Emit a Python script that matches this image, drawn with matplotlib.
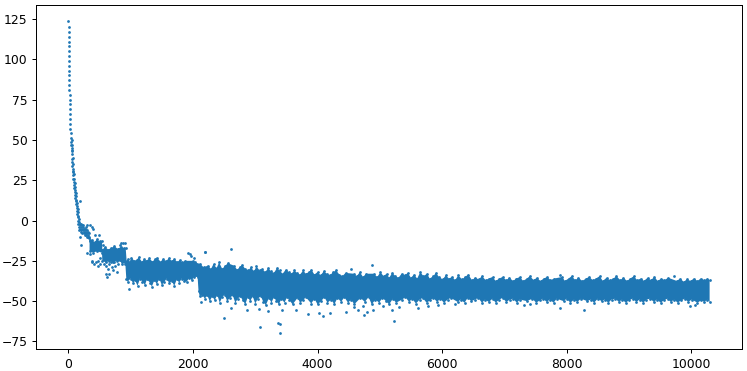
import matplotlib
matplotlib.use("Agg")
import matplotlib.pyplot as plt

#values, (x, y) pairs
#early decay, single visible points
curve = [(0,123.5),(2,120),(3,117),(4,114),(5,111),(6,108),(7,105),(8,102),(10,99),(11,96),(12,93),(13,90),(15,87),(16,84),(18,81),(19,78),(21,75),(22,72),(24,69),(26,66),(28,63),(30,60),(33,57),(36,54),(40,51),(44,49),(48,47),(52,45),(55,43),(58,50),(59,47),(60,44),(61,41),(62,38),(64,36),(66,34),(68,32),(70,39),(72,30),(74,28),(76,35),(78,26),(80,31),(84,24),(88,29),(90,22),(94,26),(96,20),(100,23),(103,18),(106,21),(108,16),(112,19),(114,14),(118,17),(120,12),(124,15),(126,10),(130,13),(132,8),(136,11),(138,6),(142,9),(144,4),(148,7),(150,2),(154,5),(156,0),(160,3),(162,-2),(166,1),(170,-4),(174,-1),(178,-6),(182,-3),(186,-5),(190,-2),(196,-6),(200,-2),(205,-4),(210,-7),(215,-3),(220,-5),(225,-8),(230,-4),(235,-6),(240,-3),(245,-8),(250,-5),(255,-7),(260,-9),(265,-5),(270,-7),(275,-4),(280,-9),(285,-6),(290,-8),(295,-10),(300,-6),(305,-8),(310,-10),(315,-7),(320,-9),(325,-11),(330,-8),(335,-10),(340,-12)]
#stray points around the decay
stray = [(180,12),(293,-2.5),(340,-3),(375,-4),(395,-5),(180,-10),(195,-15),(293,-20),(345,-21),(375,-25),(385,-26),(410,-27),(440,-26),(470,-25),(480,-28),(500,-23),(515,-27),(420,-9),(490,-9),(560,-15),(825,-15),(850,-14),(880,-14),(905,-14),(600,-33),(620,-35),(650,-33),(700,-29),(720,-31),(750,-28),(780,-32),(640,-30),(610,-28),(570,-27),(660,-27),(690,-26),(740,-26),(800,-27),(860,-27)]

#top and bottom outline of the dense part, where single points can't be read
edge_top = [(340,-13),(380,-12),(420,-13.5),(460,-11.5),(500,-13),(540,-12.5),(545,-18),(590,-16.5),(640,-18),(690,-17),(740,-16),(790,-17.5),(840,-16.5),(890,-17),(920,-17),(935,-25),(960,-24),(985,-25.5),(1010,-23),(1060,-25),(1095,-24.5),(1130,-22.8),(1180,-25.5),(1220,-24),(1250,-25),(1300,-23.5),(1350,-25.5),(1390,-24),(1420,-23),(1480,-25.5),(1520,-24),(1570,-25.2),(1610,-23.5),(1660,-25),(1700,-24),(1750,-25.7),(1790,-24.5),(1830,-26),(1870,-25),(2000,-25),(2040,-26),(2120,-27),(2170,-29),(2240,-28),(2290,-30),(2330,-27),(2380,-29.5),(2420,-26),(2470,-30),(2520,-28),(2560,-26.5),(2660,-28),(2710,-30.5),(2750,-29),(2790,-27.5),(2840,-30),(2890,-31),(2930,-29),(2980,-31.5),(3020,-28.5),(3070,-31),(3110,-30),(3160,-32),(3210,-29.5),(3250,-31.5),(3300,-32.5),(3350,-29.5),(3390,-31),(3440,-33),(3490,-30.5),(3540,-32),(3580,-33),(3630,-31),(3670,-32.5),(3720,-33.5),(3770,-31),(3810,-33),(3860,-32),(3900,-30.5),(3950,-33.5),(4000,-32),(4050,-34),(4100,-31.5),(4150,-33),(4200,-34),(4250,-32),(4300,-31),(4350,-33.5),(4400,-34.5),(4450,-32.5),(4580,-33),(4630,-34.5),(4680,-32),(4730,-35),(4780,-33),(4900,-33),(4960,-35),(5010,-32),(5060,-34.5),(5110,-33),(5150,-35.5),(5200,-32.5),(5250,-34.5),(5300,-35.5),(5350,-33),(5400,-34),(5450,-32.5),(5500,-35.5),(5550,-33.5),(5600,-36),(5650,-32),(5700,-34.5),(5760,-33),(5800,-36),(5860,-34.5),(5900,-32.5),(5950,-35),(6010,-36.5),(6060,-34),(6110,-36),(6160,-35),(6210,-37),(6260,-34),(6320,-36.5),(6370,-35),(6420,-33.5),(6480,-37),(6530,-35.5),(6590,-36.5),(6640,-34.5),(6700,-37),(6750,-36),(6810,-35),(6860,-37.5),(6920,-36),(6970,-35),(7030,-37),(7080,-35.5),(7140,-37.5),(7190,-36),(7250,-35),(7300,-37.5),(7360,-36),(7410,-34.5),(7470,-37),(7520,-35.5),(7580,-37.5),(7630,-36),(7690,-35),(7740,-37),(7800,-36),(7930,-35),(7970,-37.5),(8030,-36),(8080,-34.5),(8140,-37),(8190,-35.5),(8250,-37.5),(8310,-36),(8360,-35),(8420,-37),(8470,-36),(8530,-34.5),(8580,-37.5),(8640,-35.5),(8690,-37),(8750,-36),(8800,-34.5),(8860,-37),(8910,-35.5),(8970,-37.5),(9020,-36),(9080,-34.5),(9130,-37),(9190,-36),(9240,-37.5),(9300,-35.5),(9350,-37),(9410,-35),(9460,-37.5),(9520,-36),(9570,-37),(9630,-35.5),(9770,-37.5),(9820,-36),(9880,-38),(9930,-36.5),(9990,-37.5),(10040,-36),(10100,-37.5),(10150,-36),(10210,-37),(10260,-36),(10295,-37)]
edge_bot = [(340,-19),(400,-20),(460,-19),(540,-20),(545,-25),(600,-26),(660,-25),(720,-26),(780,-25),(860,-26),(915,-27),(930,-36),(950,-38),(1000,-36),(1040,-39),(1070,-37),(1110,-40.5),(1150,-36),(1190,-38),(1230,-40),(1260,-36.5),(1310,-38.5),(1340,-41),(1380,-37),(1420,-39.5),(1460,-36),(1500,-40),(1540,-38),(1580,-36),(1620,-39),(1660,-37.5),(1700,-40.5),(1740,-36.5),(1780,-38.5),(1820,-36),(1860,-37.5),(1900,-38),(1940,-35.5),(1980,-37),(2020,-35),(2075,-35),(2090,-44),(2110,-47),(2150,-46),(2190,-48.5),(2230,-46.5),(2270,-50),(2310,-47),(2350,-49.5),(2390,-46),(2430,-51),(2470,-47.5),(2510,-46),(2550,-50),(2590,-48),(2640,-46.5),(2680,-51),(2720,-48.5),(2760,-47),(2800,-49.5),(2840,-52),(2880,-47.5),(2920,-50),(2960,-47),(3000,-51.5),(3040,-48.5),(3090,-47),(3130,-50.5),(3170,-52.5),(3220,-48),(3260,-51),(3300,-47.5),(3340,-50),(3380,-52),(3420,-48.5),(3470,-51),(3510,-47.5),(3550,-49.5),(3600,-52),(3680,-48),(3720,-51),(3770,-49.5),(3810,-47.5),(3900,-51.5),(3950,-48.5),(4000,-52),(4060,-50),(4110,-47.5),(4160,-51),(4220,-49),(4270,-52),(4320,-48),(4380,-50.5),(4430,-47.5),(4490,-51),(4540,-49),(4590,-52),(4690,-48),(4760,-50.5),(4820,-47.5),(4870,-52),(4930,-49),(4990,-51),(5040,-48),(5100,-50),(5150,-52),(5210,-48.5),(5260,-51),(5360,-49),(5410,-47.5),(5470,-50.5),(5520,-48.5),(5580,-51.5),(5640,-49),(5690,-48),(5750,-51),(5810,-49.5),(5860,-48),(5920,-50.5),(5970,-48.5),(6030,-51),(6090,-49),(6140,-48),(6250,-50.5),(6300,-49),(6360,-51),(6410,-48),(6470,-50),(6530,-49),(6580,-48),(6640,-51),(6690,-49),(6750,-50.5),(6810,-48.5),(6860,-51),(6920,-49),(6970,-48),(7030,-50.5),(7090,-49),(7140,-48.5),(7200,-51),(7250,-49),(7360,-50),(7450,-48.5),(7510,-51),(7570,-49.5),(7620,-48.5),(7680,-50.5),(7730,-49),(7790,-51),(7840,-48.5),(7950,-50),(8000,-48.5),(8060,-51),(8120,-49),(8170,-50.5),(8230,-48.5),(8330,-50),(8390,-49),(8440,-51),(8500,-48.5),(8560,-50),(8610,-49),(8670,-51),(8720,-49),(8780,-48.5),(8840,-50.5),(8890,-49),(8950,-51),(9000,-49.5),(9060,-48.5),(9120,-50.5),(9170,-49),(9230,-51),(9280,-49),(9340,-48.5),(9400,-50.5),(9450,-49),(9510,-51),(9560,-49.5),(9620,-48.5),(9670,-50.5),(9730,-49),(9780,-51),(9840,-49.5),(9900,-48.5),(9950,-50.5),(10010,-49),(10100,-51),(10160,-49.5),(10210,-50.5),(10260,-49),(10295,-50.5)]

#far outliers
outliers = [(974,-42.3),(1913,-20),(1950,-20.6),(1970,-22),(2020,-23.5),(2191,-19.4),(2200,-19.5),(4530,-30),(4873,-27.9),(7888,-33.5),(9717,-34.5),(2610,-17.5),(2127,-50.6),(2502,-60.7),(3081,-66.3),(3366,-63.4),(3398,-64),(3403,-69.6),(2862,-55.3),(2615,-54.5),(3200,-56.2),(3060,-54.9),(3650,-55.2),(3854,-57.7),(4031,-57.2),(4085,-59),(4198,-57.6),(4450,-57),(4648,-55.6),(3435,-55.4),(4740,-58.9),(4788,-56.8),(4884,-55.8),(4728,-53.1),(5222,-62.4),(5195,-55.8),(5607,-54.3),(5768,-53.1),(5313,-53.7),(6203,-52),(7313,-52.7),(7405,-52),(8274,-55.3),(7892,-54.1),(9984,-53.3),(10054,-52.7),(4580,-53.5),(5050,-53),(5930,-52.5)]

blue = "#1f77b4"
dpi = 89
fig, ax = plt.subplots(figsize=(747/dpi, 371/dpi), dpi=dpi)

#outline polygon, top edge left to right then bottom edge back
outline = edge_top + edge_bot[::-1]
ax.fill([p[0] for p in outline], [p[1] for p in outline], color=blue, linewidth=0)
for pts in [curve, stray, edge_top, edge_bot, outliers]:
    xs, ys = zip(*pts)
    ax.scatter(xs, ys, s=5, color=blue, linewidths=0)

ax.set_xlim(-515, 10815)
ax.set_ylim(-79.7, 133.7)
ax.set_xticks([0, 2000, 4000, 6000, 8000, 10000])
ax.set_yticks([-75, -50, -25, 0, 25, 50, 75, 100, 125])

fig.subplots_adjust(left=36.3/747, right=742/747, top=1-5/371, bottom=1-349/371)
fig.savefig("out.png", dpi=dpi)
